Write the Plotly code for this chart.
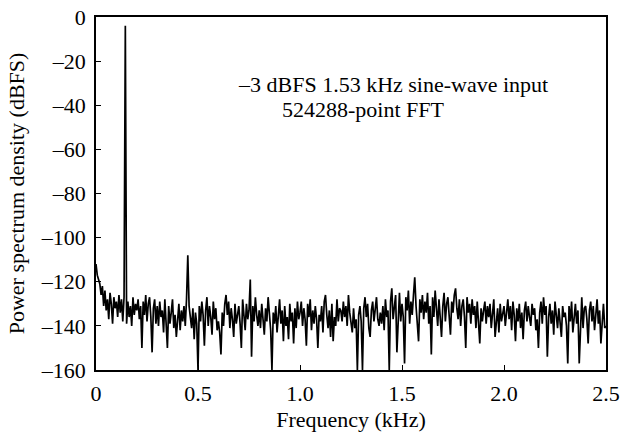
import plotly.graph_objects as go

# FFT bin spacing used for the plot (kHz)
bin_khz = 0.00625

# power spectrum density in dBFS, 16 bins per row (0.1 kHz)
psd_dbfs = [
    -112, -117, -119, -121, -126, -122, -131, -124, -133, -128, -137, -125, -130, -139, -127, -132,
    -129, -136, -126, -134, -128, -138, -127, -4, -139, -129, -136, -131, -140, -127, -135, -130,
    -133, -128, -137, -131, -150, -129, -135, -126, -138, -130, -127, -136, -152, -132, -128, -139,
    -131, -140, -129, -136, -133, -143, -128, -137, -150, -131, -139, -134, -128, -141, -135, -145,
    -136, -130, -142, -133, -138, -131, -140, -128, -108, -131, -136, -141, -132, -146, -134, -139,
    -160, -131, -138, -129, -135, -149, -133, -127, -140, -131, -136, -144, -129, -137, -132, -142,
    -138, -143, -153, -134, -140, -130, -126, -135, -129, -141, -132, -137, -145, -130, -139, -134,
    -131, -139, -150, -128, -136, -142, -130, -137, -133, -119, -154, -131, -138, -127, -135, -140,
    -133, -141, -130, -137, -144, -132, -138, -127, -135, -142, -160, -134, -139, -131, -143, -136,
    -128, -139, -133, -147, -131, -140, -136, -146, -130, -138, -134, -148, -132, -141, -129, -137,
    -134, -129, -140, -132, -137, -149, -130, -136, -128, -142, -133, -139, -131, -137, -150, -135,
    -138, -131, -143, -129, -126, -135, -141, -133, -145, -130, -147, -136, -140, -128, -138, -132,
    -133, -138, -129, -136, -131, -140, -126, -134, -139, -143, -132, -141, -137, -160, -135, -131,
    -138, -160, -132, -127, -136, -130, -141, -145, -133, -129, -138, -131, -127, -137, -140, -134,
    -139, -131, -142, -128, -136, -133, -160, -129, -123, -137, -131, -126, -152, -134, -125, -138,
    -130, -136, -157, -127, -133, -124, -139, -129, -135, -126, -118, -131, -138, -147, -128, -134,
    -126, -137, -129, -134, -125, -139, -131, -153, -127, -136, -124, -133, -140, -128, -135, -145,
    -131, -125, -138, -130, -127, -136, -144, -129, -134, -126, -123, -132, -137, -128, -140, -131,
    -128, -136, -150, -127, -134, -130, -139, -128, -135, -131, -141, -129, -137, -148, -132, -138,
    -133, -129, -139, -131, -136, -130, -141, -134, -128, -145, -137, -132, -143, -130, -138, -135,
    -131, -140, -133, -128, -137, -131, -142, -129, -135, -147, -132, -138, -130, -141, -134, -146,
    -133, -129, -138, -131, -136, -140, -130, -135, -132, -142, -137, -150, -134, -129, -139, -127,
    -135, -131, -154, -136, -130, -139, -133, -144, -129, -137, -141, -132, -138, -145, -131, -136,
    -134, -140, -157, -131, -138, -129, -143, -135, -130, -139, -133, -157, -136, -127, -141, -132,
    -131, -137, -148, -133, -129, -138, -131, -142, -135, -128, -139, -133, -148, -136, -130, -141,
    -140,
]
freq_khz = [i * bin_khz for i in range(len(psd_dbfs))]

x_ticks = [0, 0.5, 1.0, 1.5, 2.0, 2.5]
x_ticktext = ['0', '0.5', '1.0', '1.5', '2.0', '2.5']
y_ticks = [0, -20, -40, -60, -80, -100, -120, -140, -160]
y_ticktext = ['0', '–20', '–40', '–60', '–80', '–100', '–120', '–140', '–160']

note_line1 = '–3 dBFS 1.53 kHz sine-wave input'
note_line2 = '524288-point FFT'

serif = 'Liberation Serif'
txt = dict(family=serif, size=22, color='black')

fig = go.Figure()
fig.add_trace(go.Scatter(x=freq_khz, y=psd_dbfs, mode='lines',
                         line=dict(color='black', width=1.7), showlegend=False))

fig.add_annotation(x=0.686, y=-30.5, xref='x', yref='y', text=note_line1,
                   showarrow=False, xanchor='left', yanchor='middle', font=txt)
fig.add_annotation(x=0.902, y=-42.0, xref='x', yref='y', text=note_line2,
                   showarrow=False, xanchor='left', yanchor='middle', font=txt)

fig.update_layout(width=620, height=432, margin=dict(l=96, r=14, t=17, b=62),
                  paper_bgcolor='white', plot_bgcolor='white', font=txt)

fig.update_xaxes(range=[0, 2.5], tickvals=x_ticks, ticktext=x_ticktext, tickfont=txt,
                 ticks='inside', ticklen=5, tickcolor='black', tickwidth=1.2,
                 showline=True, linecolor='black', linewidth=1.5, mirror=True,
                 showgrid=False, zeroline=False, ticklabelstandoff=3, automargin=False,
                 title=dict(text='Frequency (kHz)', standoff=6, font=txt))
fig.update_yaxes(range=[-160, 0], tickvals=y_ticks, ticktext=y_ticktext, tickfont=txt,
                 ticks='inside', ticklen=5, tickcolor='black', tickwidth=1.2,
                 showline=True, linecolor='black', linewidth=1.5, mirror=True,
                 showgrid=False, zeroline=False, ticklabelstandoff=4, automargin=False,
                 title=dict(text='Power spectrum density (dBFS)', standoff=10, font=txt))

# drop the page's default body margin so the figure sits at the window corner
fig.write_html('out.html', config={'displayModeBar': False},
               post_script="document.body.style.margin='0';")
